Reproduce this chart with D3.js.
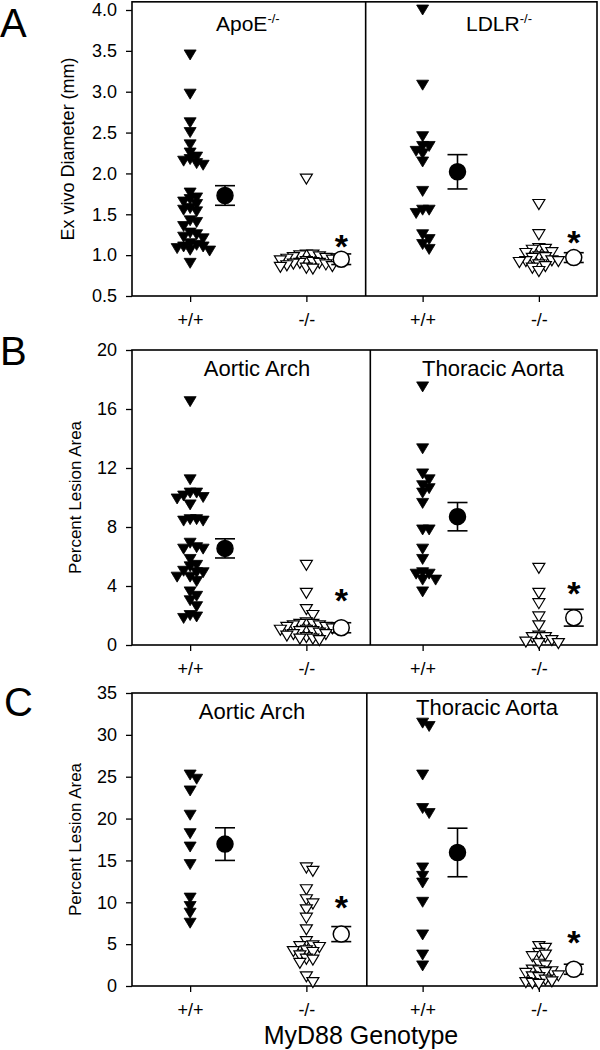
<!DOCTYPE html>
<html><head><meta charset="utf-8">
<script src="https://cdn.jsdelivr.net/npm/d3@7"></script>
<style>body{margin:0;background:#fff} svg{display:block} text{font-family:"Liberation Sans",Arial,sans-serif;fill:#000}</style>
</head><body><svg id="c" width="600" height="1050"></svg>
<script>
// ---------- data ----------
const genotypeLabels = ["+/+", "-/-", "+/+", "-/-"];
const panelLetters = ["A", "B", "C"];
const yTitles = ["Ex vivo Diameter (mm)", "Percent Lesion Area", "Percent Lesion Area"];
const subTitlesA = [["ApoE", "-/-"], ["LDLR", "-/-"]];
const subTitlesB = ["Aortic Arch", "Thoracic Aorta"];
const subTitlesC = ["Aortic Arch", "Thoracic Aorta"];
const ticksA = [0.5, 1.0, 1.5, 2.0, 2.5, 3.0, 3.5, 4.0];
const ticksB = [0, 4, 8, 12, 16, 20];
const ticksC = [0, 5, 10, 15, 20, 25, 30, 35];
const xAxisTitle = "MyD88 Genotype";

const A_apoe_wt = [3.45, 2.97, 2.62, 2.50, 2.35, 2.25, 2.20, 2.17, 2.15, 2.12, 2.10, 1.76, 1.70, 1.68, 1.65, 1.62, 1.57, 1.55, 1.53, 1.42, 1.40, 1.35, 1.27, 1.25, 1.22, 1.20, 1.14, 1.12, 1.10, 1.10, 1.08, 1.06, 1.05, 0.90];
const A_apoe_ko = [1.93, 1.00, 1.00, 0.99, 0.98, 0.97, 0.96, 0.95, 0.94, 0.93, 0.92, 0.91, 0.90, 0.90, 0.89, 0.88, 0.87, 0.86, 0.85, 0.84, 0.83];
const A_ldlr_wt = [4.0, 3.08, 2.45, 2.33, 2.33, 2.27, 2.24, 2.14, 1.78, 1.55, 1.55, 1.51, 1.25, 1.19, 1.13, 1.07];
const A_ldlr_ko = [1.62, 1.25, 1.08, 1.07, 1.06, 1.03, 1.02, 0.98, 0.97, 0.96, 0.93, 0.92, 0.92, 0.91, 0.88, 0.86, 0.84, 0.80];
const A_means = [1.73, 0.95, 2.02, 0.97];
const A_sem = [0.12, 0.065, 0.21, 0.06];
const A_stars = [null, 1.20, null, 1.25];

const B_arch_wt = [16.5, 11.2, 10.3, 10.3, 10.1, 10.0, 9.9, 9.5, 8.5, 8.5, 8.4, 8.4, 6.9, 6.6, 6.5, 6.5, 5.8, 5.4, 5.3, 5.0, 4.9, 4.9, 4.6, 4.6, 4.3, 3.6, 3.3, 3.0, 2.6, 2.0, 1.9, 1.8];
const B_arch_ko = [5.4, 3.5, 2.4, 2.0, 1.5, 1.4, 1.4, 1.3, 1.3, 1.2, 1.2, 1.1, 1.0, 1.0, 0.9, 0.9, 0.8, 0.7, 0.7, 0.6, 0.5, 0.4, 0.4, 0.3];
const B_thor_wt = [17.5, 13.3, 11.6, 11.2, 10.8, 10.6, 10.3, 9.6, 7.8, 7.8, 6.5, 5.8, 4.9, 4.8, 4.8, 4.4, 4.4, 3.6];
const B_thor_ko = [5.2, 3.5, 2.8, 1.9, 1.3, 0.6, 0.5, 0.5, 0.3, 0.2, 0.1, 0.1];
const B_means = [6.55, 1.17, 8.7, 1.85];
const B_sem = [0.65, 0.34, 0.96, 0.57];
const B_stars = [null, 3.5, null, 4.0];

const C_arch_wt = [25.2, 24.7, 23.3, 20.4, 18.2, 16.6, 14.5, 10.5, 9.5, 8.7, 7.5];
const C_arch_ko = [14.1, 13.7, 11.5, 10.3, 9.8, 9.1, 8.1, 6.7, 5.3, 4.8, 4.7, 4.6, 4.2, 4.1, 4.0, 3.6, 3.2, 3.1, 2.7, 1.1, 0.4];
const C_thor_wt = [31.4, 31.0, 25.2, 21.2, 20.6, 14.1, 13.1, 12.3, 10.0, 6.1, 3.7, 2.4];
const C_thor_ko = [4.7, 4.5, 3.9, 3.7, 3.5, 2.6, 2.4, 1.9, 1.8, 1.7, 1.6, 1.5, 1.2, 1.1, 1.0, 0.7, 0.5, 0.4, 0.3, 0.2];
const C_means = [16.95, 6.2, 15.95, 2.0];
const C_sem = [1.95, 0.9, 2.9, 0.6];
const C_stars = [null, 10.3, null, 6.1];

// ---------- layout ----------
const svg = d3.select("#c");
const x = d3.scaleLinear().domain([0, 4]).range([132, 597]);
const groupPos = [0.5, 1.5, 2.5, 3.5];
const meanShift = 0.3;

const panels = [
  { letter: panelLetters[0], letterX: 0, letterY: 37, yTitle: yTitles[0], yTitleX: 68, yTitleSize: 18,
    domain: [0.5, 4.1], range: [296, 1.83], ticks: ticksA, fmt: d3.format(".1f"), divider: 2.01,
    groups: [A_apoe_wt, A_apoe_ko, A_ldlr_wt, A_ldlr_ko], means: A_means, sem: A_sem, stars: A_stars,
    titles: [{sup: subTitlesA[0], x: 216, y: 31}, {sup: subTitlesA[1], x: 466, y: 31}] },
  { letter: panelLetters[1], letterX: 0, letterY: 365, yTitle: yTitles[1], yTitleX: 75, yTitleSize: 17,
    domain: [0, 20], range: [645, 350], ticks: ticksB, fmt: d3.format("d"), divider: 2.05,
    groups: [B_arch_wt, B_arch_ko, B_thor_wt, B_thor_ko], means: B_means, sem: B_sem, stars: B_stars,
    titles: [{t: subTitlesB[0], x: 257, y: 376}, {t: subTitlesB[1], x: 493, y: 376}] },
  { letter: panelLetters[2], letterX: 4, letterY: 716, yTitle: yTitles[2], yTitleX: 75, yTitleSize: 17,
    domain: [0, 35], range: [986, 693], ticks: ticksC, fmt: d3.format("d"), divider: 2.02,
    groups: [C_arch_wt, C_arch_ko, C_thor_wt, C_thor_ko], means: C_means, sem: C_sem, stars: C_stars,
    titles: [{t: subTitlesC[0], x: 252, y: 719}, {t: subTitlesC[1], x: 487, y: 715}] }
];

const triPath = "M-6,-5L6,-5L0,5Z";

function dodge(values, y, step, vsep) {
  const placed = [];
  const order = values.map((v, i) => i).sort((a, b) => values[b] - values[a]);
  const out = new Array(values.length);
  order.forEach(i => {
    const py = y(values[i]);
    for (let k = 0; k < 40; k++) {
      const off = (k % 2 === 1 ? 1 : -1) * Math.ceil(k / 2) * step;
      if (!placed.some(p => Math.abs(p.y - py) < vsep && Math.abs(p.x - off) < step * 0.99)) {
        placed.push({x: off, y: py}); out[i] = off; break;
      }
    }
  });
  return out;
}

panels.forEach(P => {
  const y = d3.scaleLinear().domain(P.domain).range(P.range);
  const g = svg.append("g");
  const top = P.range[1], bottom = P.range[0];

  // y axis
  const ya = g.append("g").attr("transform", `translate(${x(0)},0)`)
    .call(d3.axisLeft(y).tickValues(P.ticks).tickFormat(P.fmt).tickSize(6).tickPadding(9));
  ya.select(".domain").remove();
  ya.selectAll("line").attr("stroke", "#000").attr("stroke-width", 1.3);
  ya.selectAll("text").style("font-size", "18px").attr("font-family", null);

  // x axis
  const xa = g.append("g").attr("transform", `translate(0,${bottom})`)
    .call(d3.axisBottom(x).tickValues(groupPos).tickFormat((d, i) => genotypeLabels[i]).tickSize(6).tickPadding(11));
  xa.select(".domain").remove();
  xa.selectAll("line").attr("stroke", "#000").attr("stroke-width", 1.3);
  xa.selectAll("text").style("font-size", "18px").attr("font-family", null);

  // frame & divider
  g.append("rect").attr("x", x(0)).attr("y", top).attr("width", x(4) - x(0)).attr("height", bottom - top)
    .attr("fill", "none").attr("stroke", "#000").attr("stroke-width", 1.6);
  g.append("line").attr("x1", x(P.divider)).attr("x2", x(P.divider)).attr("y1", top).attr("y2", bottom)
    .attr("stroke", "#000").attr("stroke-width", 1.6);

  // points
  P.groups.forEach((vals, gi) => {
    const offs = dodge(vals, y, 6.5, 6);
    const filled = gi % 2 === 0;
    g.append("g").selectAll("path").data(vals).join("path")
      .attr("d", triPath)
      .attr("transform", (d, i) => `translate(${x(groupPos[gi]) + offs[i]},${y(d)})`)
      .attr("fill", filled ? "#000" : "#fff")
      .attr("stroke", "#000").attr("stroke-width", filled ? 0.8 : 1.2);
  });

  // means & error bars
  P.means.forEach((m, gi) => {
    const cx = x(groupPos[gi] + meanShift);
    const y1 = y(m + P.sem[gi]), y2 = y(m - P.sem[gi]);
    const eg = g.append("g").attr("stroke", "#000").attr("stroke-width", 1.6);
    eg.append("line").attr("x1", cx).attr("x2", cx).attr("y1", y1).attr("y2", y2);
    eg.append("line").attr("x1", cx - 10).attr("x2", cx + 10).attr("y1", y1).attr("y2", y1);
    eg.append("line").attr("x1", cx - 10).attr("x2", cx + 10).attr("y1", y2).attr("y2", y2);
    g.append("circle").attr("cx", cx).attr("cy", y(m)).attr("r", 8)
      .attr("fill", gi % 2 === 0 ? "#000" : "#fff").attr("stroke", "#000").attr("stroke-width", 1.5);
    if (P.stars[gi] != null) {
      g.append("text").attr("x", cx).attr("y", y(P.stars[gi]) + 19)
        .attr("text-anchor", "middle").style("font-size", "34px").style("font-weight", "bold").text("*");
    }
  });

  // sub titles
  P.titles.forEach(t => {
    if (t.sup) {
      const tx = g.append("text").attr("x", t.x).attr("y", t.y).style("font-size", "21px");
      tx.append("tspan").text(t.sup[0]);
      tx.append("tspan").attr("dy", -8).style("font-size", "13px").text(t.sup[1]);
    } else {
      g.append("text").attr("x", t.x).attr("y", t.y).attr("text-anchor", "middle")
        .style("font-size", "22px").text(t.t);
    }
  });

  // y title
  g.append("text").attr("transform", `translate(${P.yTitleX},${(top + bottom) / 2}) rotate(-90)`)
    .attr("text-anchor", "middle").attr("dy", "0.35em").style("font-size", P.yTitleSize + "px").text(P.yTitle);

  // panel letter
  g.append("text").attr("x", P.letterX).attr("y", P.letterY).style("font-size", "40px").text(P.letter);
});

svg.append("text").attr("x", 361).attr("y", 1044).attr("text-anchor", "middle")
  .style("font-size", "25px").text(xAxisTitle);
</script></body></html>
